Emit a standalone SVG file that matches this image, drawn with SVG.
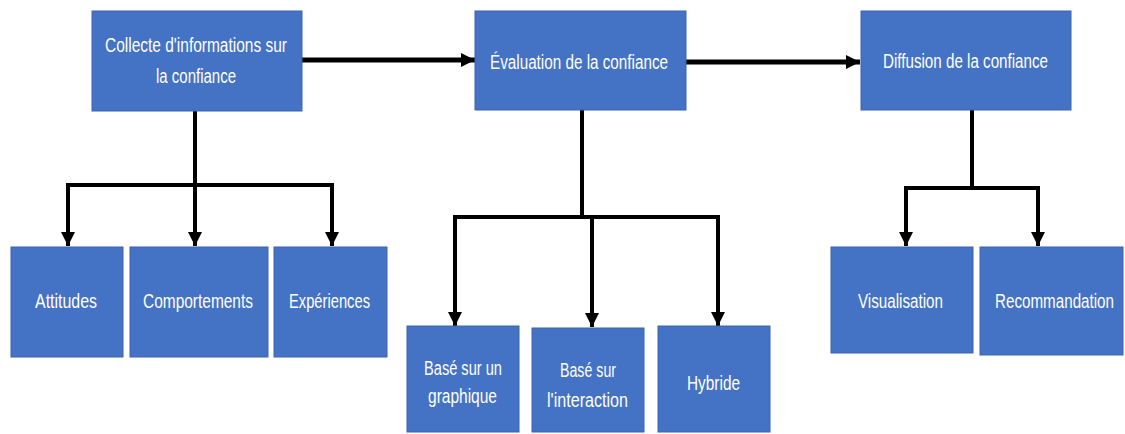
<svg xmlns="http://www.w3.org/2000/svg" width="1125" height="434" viewBox="0 0 1125 434">
<defs>
<style>
.box{fill:#4472C4;stroke:#3B64AE;stroke-width:1}
.lbl{font-family:"Liberation Sans Narrow","Liberation Sans",Arial,sans-serif;font-size:20px;fill:#FFFFFF;text-anchor:middle}
.ln{fill:none;stroke:#000000;stroke-width:4}
.th{stroke-width:5}
</style>
<marker id="ah" markerUnits="userSpaceOnUse" markerWidth="16" markerHeight="14" refX="14" refY="7" orient="auto" viewBox="0 0 16 14">
<path d="M0,0 L14,7 L0,14 z" fill="#000000"/>
</marker>
</defs>
<rect width="1125" height="434" fill="#FFFFFF"/>
<g id="connectors">
<line class="ln th" x1="302" y1="60" x2="475" y2="60" marker-end="url(#ah)"/>
<line class="ln th" x1="686" y1="62" x2="860" y2="62" marker-end="url(#ah)"/>
<path class="ln" d="M195,111 V185 M66,185 H334"/>
<line class="ln" x1="68" y1="185" x2="68" y2="246" marker-end="url(#ah)"/>
<line class="ln" x1="195" y1="185" x2="195" y2="246" marker-end="url(#ah)"/>
<line class="ln" x1="332" y1="185" x2="332" y2="246" marker-end="url(#ah)"/>
<path class="ln" d="M582,110 V217 M453,217 H720"/>
<line class="ln" x1="455" y1="217" x2="455" y2="326" marker-end="url(#ah)"/>
<line class="ln" x1="592" y1="217" x2="592" y2="327" marker-end="url(#ah)"/>
<line class="ln" x1="718" y1="217" x2="718" y2="326" marker-end="url(#ah)"/>
<path class="ln" d="M972,110 V188 M904,188 H1040"/>
<line class="ln" x1="906" y1="188" x2="906" y2="246" marker-end="url(#ah)"/>
<line class="ln" x1="1038" y1="188" x2="1038" y2="246" marker-end="url(#ah)"/>
</g>
<g id="collecte">
<rect class="box" x="92" y="11" width="210" height="100"/>
<text class="lbl" x="196" y="52" textLength="182" lengthAdjust="spacingAndGlyphs">Collecte d'informations sur</text>
<text class="lbl" x="196" y="83" textLength="80" lengthAdjust="spacingAndGlyphs">la confiance</text>
</g>
<g id="evaluation">
<rect class="box" x="475" y="11" width="211" height="99"/>
<text class="lbl" x="579" y="69" textLength="178" lengthAdjust="spacingAndGlyphs">Évaluation de la confiance</text>
</g>
<g id="diffusion">
<rect class="box" x="861" y="11" width="210" height="99"/>
<text class="lbl" x="965.5" y="68" textLength="165" lengthAdjust="spacingAndGlyphs">Diffusion de la confiance</text>
</g>
<g id="attitudes">
<rect class="box" x="11" y="247" width="112" height="110"/>
<text class="lbl" x="66" y="308" textLength="62" lengthAdjust="spacingAndGlyphs">Attitudes</text>
</g>
<g id="comportements">
<rect class="box" x="130" y="247" width="138" height="110"/>
<text class="lbl" x="198" y="308" textLength="110" lengthAdjust="spacingAndGlyphs">Comportements</text>
</g>
<g id="experiences">
<rect class="box" x="274" y="247" width="113" height="110"/>
<text class="lbl" x="329.5" y="308" textLength="81" lengthAdjust="spacingAndGlyphs">Expériences</text>
</g>
<g id="graphique">
<rect class="box" x="407" y="326" width="112" height="106"/>
<text class="lbl" x="463" y="375" textLength="78" lengthAdjust="spacingAndGlyphs">Basé sur un</text>
<text class="lbl" x="462.5" y="403" textLength="69" lengthAdjust="spacingAndGlyphs">graphique</text>
</g>
<g id="interaction">
<rect class="box" x="532" y="328" width="112" height="104"/>
<text class="lbl" x="588" y="377" textLength="56" lengthAdjust="spacingAndGlyphs">Basé sur</text>
<text class="lbl" x="587.5" y="407" textLength="81" lengthAdjust="spacingAndGlyphs">l'interaction</text>
</g>
<g id="hybride">
<rect class="box" x="658" y="326" width="112" height="106"/>
<text class="lbl" x="713.5" y="390" textLength="53" lengthAdjust="spacingAndGlyphs">Hybride</text>
</g>
<g id="visualisation">
<rect class="box" x="831" y="247" width="142" height="106"/>
<text class="lbl" x="900.5" y="308" textLength="85" lengthAdjust="spacingAndGlyphs">Visualisation</text>
</g>
<g id="recommandation">
<rect class="box" x="980" y="247" width="143" height="108"/>
<text class="lbl" x="1054.5" y="308" textLength="119" lengthAdjust="spacingAndGlyphs">Recommandation</text>
</g>
</svg>
